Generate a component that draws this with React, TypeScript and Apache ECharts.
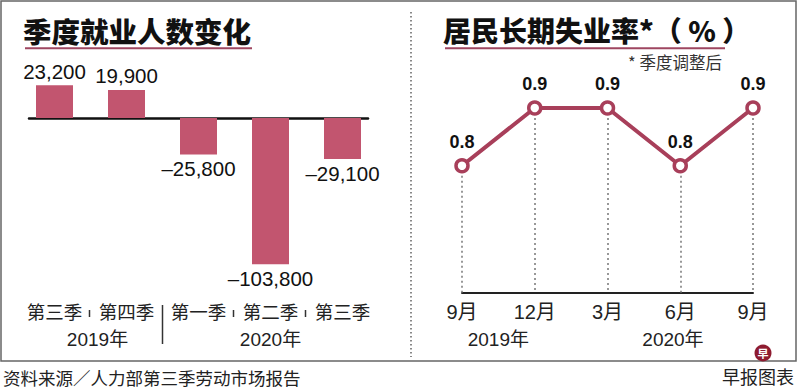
import React, { useEffect, useRef } from "react";
import * as echarts from "echarts";

const barCategories = ["第三季", "第四季", "第一季", "第二季", "第三季"];
const barValues = [23200, 19900, -25800, -103800, -29100];
const barYearLabels = ["2019年", "2020年"];

const lineCategories = ["9月", "12月", "3月", "6月", "9月"];
const lineValues = [0.8, 0.9, 0.9, 0.8, 0.9];
const lineYearLabels = ["2019年", "2020年"];

const titleLeft = "季度就业人数变化";
const titleRight = "居民长期失业率*（ % ）";
const noteRight = "* 季度调整后";
const sourceText = "资料来源／人力部第三季劳动市场报告";
const creditText = "早报图表";

const FONT = "'Liberation Sans', 'Noto Sans CJK SC', sans-serif";
const CJK = "'Noto Sans CJK SC', 'Liberation Sans', sans-serif";
const BAR_COLOR = "#c2556f";
const LINE_COLOR = "#a83f5a";
const ACCENT = "#9e4660";

const BAR_MIN = -110000;
const BAR_MAX = 30000;
const LINE_MIN = 0.58;
const LINE_MAX = 0.92;

// layout
const barGrid = { left: 18.5, top: 75.7, width: 360, height: 197.4 };
const lineGrid = { left: 462, top: 96.5, width: 291, height: 196.2 };

function fmt(v: number) {
  const s = Math.abs(v).toLocaleString("en-US");
  return v < 0 ? "–" + s : s;
}

export default function App() {
  const ref = useRef<HTMLDivElement>(null);
  useEffect(() => {
    if (!ref.current) return;
    const chart = echarts.init(ref.current, null, { renderer: "svg" });
    const catW = barGrid.width / barCategories.length;
    const step = lineGrid.width / (lineCategories.length - 1);

    const yearText = (text: string, x: number) => ({
      type: "text",
      x,
      y: 339,
      style: {
        text,
        fontSize: 19,
        fontFamily: FONT,
        fill: "#222",
        textAlign: "center",
        textVerticalAlign: "middle",
      },
    });

    const option: any = {
      animation: false,
      backgroundColor: "#ffffff",
      grid: [
        { ...barGrid },
        { left: 29, top: barGrid.top, width: 339, height: barGrid.height },
        { ...lineGrid },
      ],
      xAxis: [
        {
          gridIndex: 0,
          type: "category",
          data: barCategories,
          position: "bottom",
          axisLine: { show: false, onZero: false },
          axisTick: { show: false },
          axisLabel: {
            interval: 0,
            hideOverlap: false,
            margin: 29,
            fontSize: 18.5,
            color: "#222",
            fontFamily: CJK,
          },
        },
        {
          gridIndex: 1,
          type: "value",
          min: 0,
          max: 1,
          axisLine: { show: true, onZero: true, lineStyle: { color: "#111", width: 2.5 } },
          axisTick: { show: false },
          axisLabel: { show: false },
          splitLine: { show: false },
        },
        {
          gridIndex: 2,
          type: "category",
          data: lineCategories,
          boundaryGap: false,
          axisLine: { show: true, onZero: false, lineStyle: { color: "#222", width: 2 } },
          axisTick: { show: false },
          axisLabel: {
            interval: 0,
            margin: 9,
            fontSize: 20,
            color: "#222",
            fontFamily: FONT,
          },
          splitLine: { show: false },
        },
      ],
      yAxis: [
        { gridIndex: 0, type: "value", min: BAR_MIN, max: BAR_MAX, show: false },
        { gridIndex: 1, type: "value", min: BAR_MIN, max: BAR_MAX, show: false },
        { gridIndex: 2, type: "value", min: LINE_MIN, max: LINE_MAX, show: false },
      ],
      series: [
        {
          type: "bar",
          xAxisIndex: 0,
          yAxisIndex: 0,
          barWidth: 37,
          itemStyle: { color: BAR_COLOR },
          data: barValues.map((v) => ({
            value: v,
            label: { position: v >= 0 ? "top" : "bottom", distance: 4 },
          })),
          label: {
            show: true,
            fontSize: 20.5,
            color: "#111",
            fontFamily: FONT,
            formatter: (p: any) => fmt(p.value),
          },
        },
        {
          type: "line",
          xAxisIndex: 2,
          yAxisIndex: 2,
          z: 1,
          silent: true,
          symbol: "none",
          lineStyle: { opacity: 0 },
          data: lineValues,
          markLine: {
            silent: true,
            z: 1,
            symbol: ["none", "none"],
            label: { show: false },
            lineStyle: { type: [2, 3], color: "#777", width: 1.5 },
            data: lineValues.map((v, i) => [
              { coord: [i, v] },
              { coord: [i, LINE_MIN] },
            ]),
          },
        },
        {
          type: "line",
          xAxisIndex: 2,
          yAxisIndex: 2,
          z: 4,
          data: lineValues,
          symbol: "circle",
          symbolSize: 12,
          lineStyle: { color: LINE_COLOR, width: 4 },
          itemStyle: { color: "#fff", borderColor: LINE_COLOR, borderWidth: 3.5 },
          label: {
            show: true,
            position: "top",
            distance: 7,
            fontSize: 18,
            fontWeight: "bold",
            color: "#111",
            fontFamily: FONT,
            formatter: (p: any) => Number(p.value).toFixed(1),
          },
        },
      ],
      graphic: [
        {
          type: "rect",
          shape: { x: 1, y: 1, width: 795, height: 360 },
          style: { fill: "none", stroke: "#666", lineWidth: 1.5 },
          z: -1,
        },
        {
          type: "text",
          x: 23,
          y: 30,
          style: {
            text: titleLeft,
            fontSize: 28.5,
            fontWeight: 900,
            fontFamily: CJK,
            fill: "#111",
            textVerticalAlign: "middle",
          },
        },
        {
          type: "line",
          shape: { x1: 25, y1: 48.3, x2: 252, y2: 48.3 },
          style: { stroke: ACCENT, lineWidth: 2 },
        },
        {
          type: "text",
          x: 443,
          y: 30,
          style: {
            text: titleRight,
            fontSize: 28,
            fontWeight: 900,
            fontFamily: CJK,
            fill: "#111",
            textVerticalAlign: "middle",
          },
        },
        {
          type: "line",
          shape: { x1: 445, y1: 48.3, x2: 725, y2: 48.3 },
          style: { stroke: ACCENT, lineWidth: 2 },
        },
        {
          type: "text",
          x: 722,
          y: 62,
          style: {
            text: noteRight,
            fontSize: 16.5,
            fontFamily: CJK,
            fill: "#333",
            textAlign: "right",
            textVerticalAlign: "middle",
          },
        },
        {
          type: "line",
          shape: { x1: 411, y1: 12, x2: 411, y2: 357 },
          style: { stroke: "#888", lineWidth: 2, lineDash: [1.5, 2.5] },
        },
        ...[1, 3, 4].map((i) => ({
          type: "line",
          z: 10,
          shape: {
            x1: barGrid.left + catW * i - 1,
            y1: 310,
            x2: barGrid.left + catW * i - 1,
            y2: 317,
          },
          style: { stroke: "#333", lineWidth: 1.5 },
        })),
        {
          type: "line",
          shape: {
            x1: barGrid.left + catW * 2,
            y1: 305,
            x2: barGrid.left + catW * 2,
            y2: 344,
          },
          style: { stroke: "#333", lineWidth: 1.5 },
        },
        yearText(barYearLabels[0], barGrid.left + catW * 1 + 7),
        yearText(barYearLabels[1], barGrid.left + catW * 3.5),
        yearText(lineYearLabels[0], lineGrid.left + step * 0.5),
        yearText(lineYearLabels[1], lineGrid.left + step * 2.9),
        {
          type: "text",
          x: 3,
          y: 377.5,
          style: {
            text: sourceText,
            fontSize: 17.5,
            fontFamily: CJK,
            fill: "#222",
            textVerticalAlign: "middle",
          },
        },
        {
          type: "circle",
          shape: { cx: 763, cy: 353, r: 8.5 },
          style: { fill: "#8e1b30" },
          z: 5,
        },
        {
          type: "text",
          x: 763,
          y: 353,
          z: 6,
          style: {
            text: "早",
            fontSize: 11,
            fontWeight: "bold",
            fontFamily: CJK,
            fill: "#fff",
            textAlign: "center",
            textVerticalAlign: "middle",
          },
        },
        {
          type: "text",
          x: 794,
          y: 376,
          style: {
            text: creditText,
            fontSize: 18,
            fontFamily: CJK,
            fill: "#222",
            textAlign: "right",
            textVerticalAlign: "middle",
          },
        },
      ],
    };
    chart.setOption(option);
    return () => chart.dispose();
  }, []);
  return (
    <div
      ref={ref}
      style={{ position: "absolute", left: 0, top: 0, width: 800, height: 389 }}
    />
  );
}
